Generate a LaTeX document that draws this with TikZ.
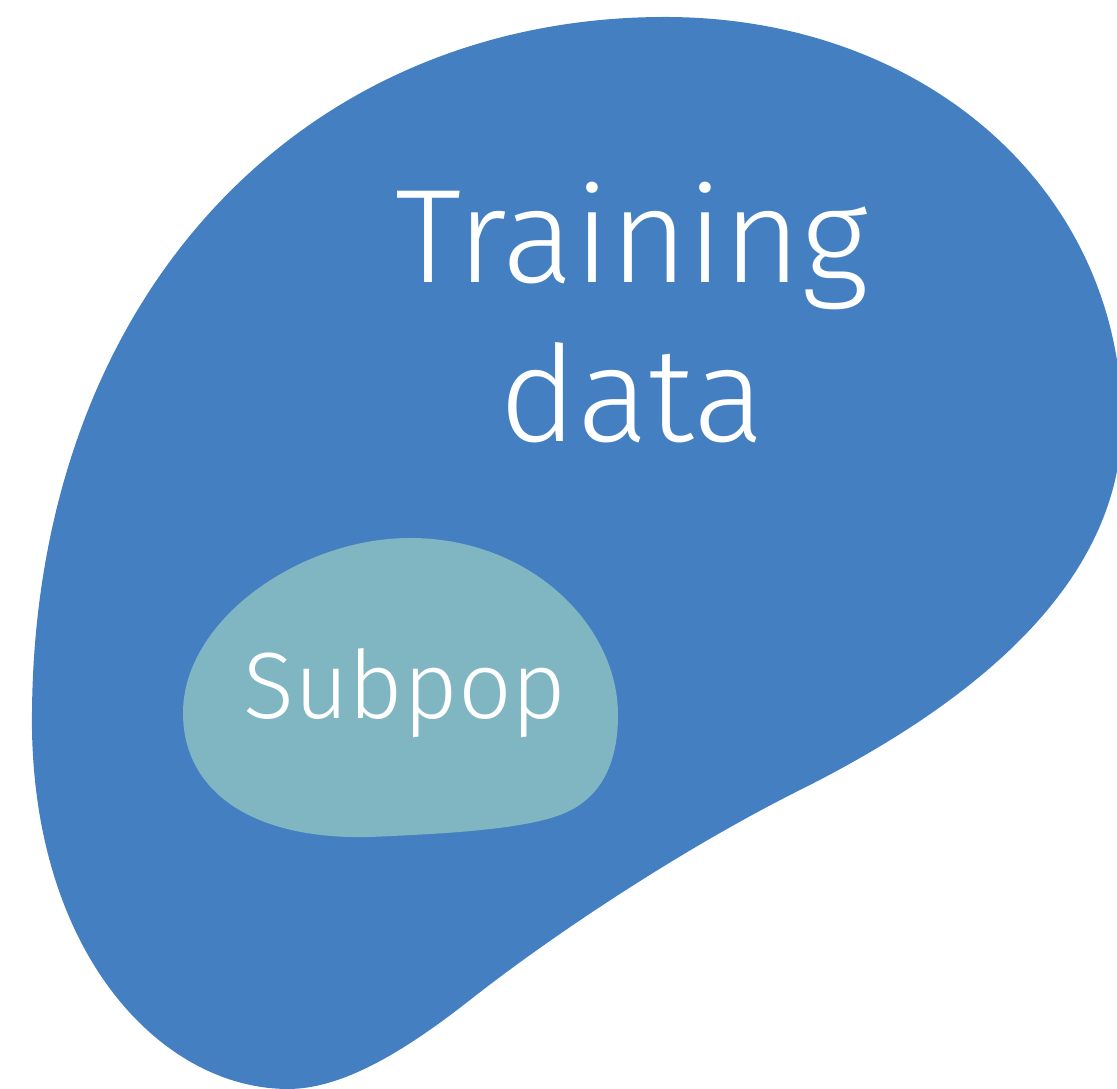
\documentclass[tikz,border=0pt]{standalone}
\usepackage{fontspec}
\setmainfont{Fira Sans Light}
\definecolor{blobblue}{RGB}{68,128,193}
\definecolor{blobteal}{RGB}{127,182,194}
\begin{document}
\begin{tikzpicture}[x=0.01cm,y=-0.01cm,
  label/.style={text=white,inner sep=0pt,align=center}]
\useasboundingbox (0,0) rectangle (1117,1089);
\clip (0,0) rectangle (1117,1089);
% outer population
\fill[blobblue] (665,17)
  .. controls (925,17) and (1120,190) .. (1122,420)
  .. controls (1122,580) and (980,700) .. (800,790)
  .. controls (680,850) and (550,937) .. (470,1000)
  .. controls (400,1055) and (340,1089) .. (288,1089)
  .. controls (165,1089) and (36,960) .. (32,730)
  .. controls (28,300) and (300,17) .. (665,17) -- cycle;
% subpopulation
\fill[blobteal] (410,538)
  .. controls (530,538) and (618,625) .. (618,715)
  .. controls (618,765) and (600,800) .. (560,815)
  .. controls (520,830) and (440,834) .. (370,837)
  .. controls (250,840) and (183,790) .. (183,713)
  .. controls (183,620) and (300,538) .. (410,538) -- cycle;
\node[label,font=\fontsize{37.9}{45.2}\selectfont] (train) at (632,313) {Training\\data};
\node[label,font=\fontsize{26.8}{32}\selectfont,anchor=base] (sub) at (405,719) {Subpop};
\end{tikzpicture}
\end{document}
